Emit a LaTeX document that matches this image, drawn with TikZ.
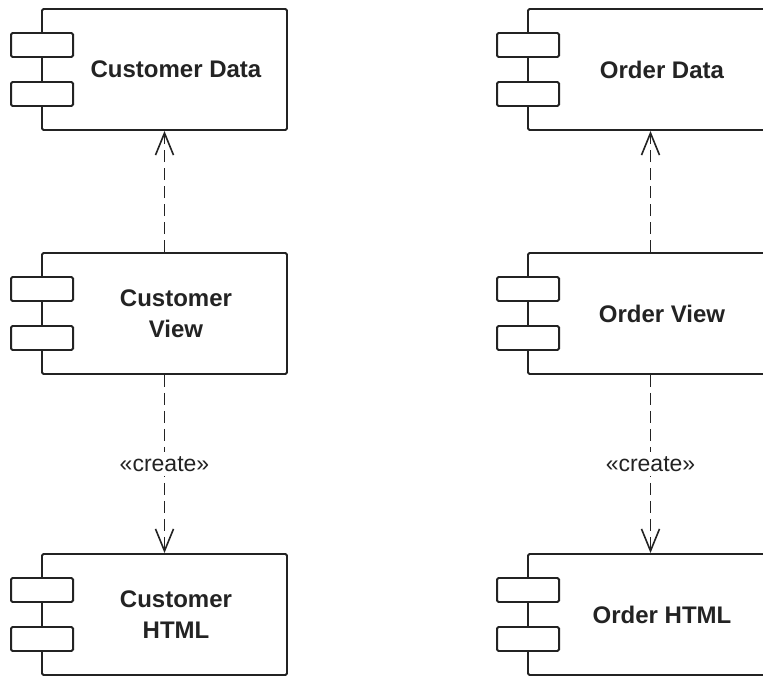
\documentclass[tikz,border=0pt]{standalone}
\usepackage{fontspec}
\setmainfont{Liberation Sans}
\usetikzlibrary{arrows.meta}
\definecolor{ink}{RGB}{35,35,35}
\tikzset{
  compbox/.style={draw=ink, line width=1.9pt, rounded corners=1.5pt, fill=white,
    minimum width=245pt, minimum height=121pt, inner sep=0pt},
  portbox/.style={draw=ink, line width=1.9pt, rounded corners=1.5pt, fill=white,
    minimum width=62pt, minimum height=24pt, inner sep=0pt},
  complabel/.style={font=\fontsize{24}{31}\selectfont\bfseries, text=ink, align=center, inner sep=0pt},
  dep/.style={draw=ink, line width=1.8pt, dash pattern=on 12pt off 6pt,
    -{Straight Barb[length=22pt,width=18pt,line width=1.6pt]}},
  stereo/.style={font=\fontsize{23}{28}\selectfont, text=ink, fill=white, inner sep=4pt}
}
\newcommand{\mycomp}[4]{%
  \node[compbox] (#1) at (#2,#3) {};
  \node[portbox] (#1-p1) at ([xshift=1pt,yshift=24.5pt]#1.west) {};
  \node[portbox] (#1-p2) at ([xshift=1pt,yshift=-24.5pt]#1.west) {};
  \node[complabel] (#1-l) at ([xshift=11.5pt]#1.center) {#4};
}
\begin{document}
\begin{tikzpicture}[x=1pt,y=-1pt]
\useasboundingbox (0,0) rectangle (763,677);
\clip (0,0) rectangle (763,677);
\mycomp{cd}{164.5}{69.5}{Customer Data}
\mycomp{cv}{164.5}{313.5}{Customer\\View}
\mycomp{ch}{164.5}{614.5}{Customer\\HTML}
\mycomp{od}{650.5}{69.5}{Order Data}
\mycomp{ov}{650.5}{313.5}{Order View}
\mycomp{oh}{650.5}{614.5}{Order HTML}
\draw[dep] (cv.north) -- (cd.south);
\draw[dep] (cv.south) -- node[stereo] (cc) {«create»} (ch.north);
\draw[dep] (ov.north) -- (od.south);
\draw[dep] (ov.south) -- node[stereo] (oc) {«create»} (oh.north);
\end{tikzpicture}
\end{document}
